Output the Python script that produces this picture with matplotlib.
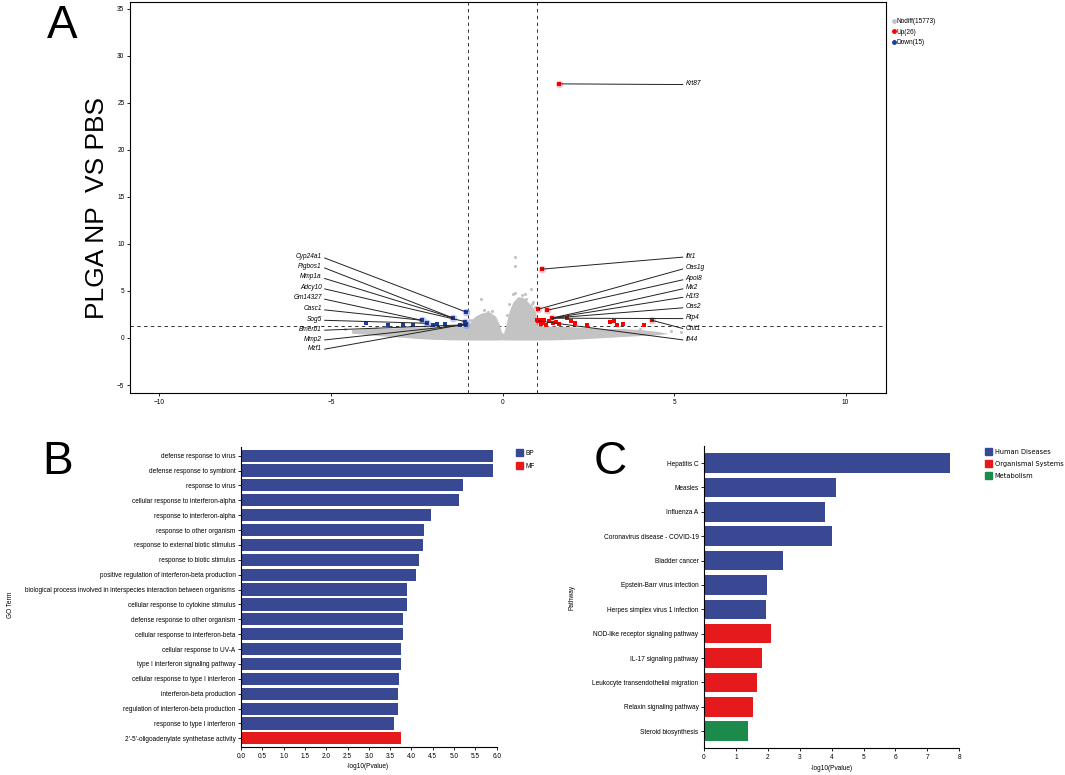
import matplotlib
matplotlib.use("Agg")
import matplotlib.pyplot as plt
from matplotlib.lines import Line2D
from matplotlib.patches import Patch
from matplotlib import font_manager

plt.rcParams['font.family'] = ['Liberation Sans', 'DejaVu Sans']

# ---------------- Panel A data ----------------
up_x = [1.66, 1.14, 1.04, 1.31, 1.43, 1.87, 1.01, 1.09, 1.20, 1.17, 1.27, 1.46, 1.66,
        2.00, 2.10, 3.14, 3.26, 3.35, 3.50, 4.13, 4.35, 1.04, 1.12, 1.55, 2.45, 1.35]
up_y = [27.0, 7.31, 3.05, 2.95, 2.10, 2.16, 1.91, 1.91, 1.91, 1.56, 1.38, 1.56, 1.46,
        1.84, 1.56, 1.67, 1.78, 1.38, 1.49, 1.38, 1.88, 1.81, 1.45, 1.70, 1.40, 1.75]
down_x = [-1.07, -1.45, -1.08, -2.36, -2.19, -1.07, -1.69, -2.02, -2.90, -3.35, -3.99,
          -1.05, -1.25, -2.60, -1.90]
down_y = [2.77, 2.13, 1.73, 1.88, 1.56, 1.40, 1.46, 1.38, 1.38, 1.38, 1.56,
          1.50, 1.35, 1.42, 1.48]

nodiff_env_x = [-4.4, -4.0, -3.5, -3.0, -2.5, -2.0, -1.5, -1.0, -0.9, -0.8, -0.65, -0.5,
                -0.35, -0.2, -0.1, -0.03, 0.03, 0.1, 0.2, 0.3, 0.45, 0.6, 0.75, 0.9,
                0.98, 1.0, 1.5, 2.0, 2.5, 3.0, 3.5, 4.0, 4.5, 4.8]
nodiff_env_top = [0.9, 1.0, 1.05, 1.1, 1.15, 1.2, 1.25, 1.3, 1.9, 2.3, 2.6, 2.75,
                  2.7, 2.3, 1.5, 0.6, 0.5, 1.4, 2.9, 3.8, 4.4, 4.3, 3.8, 3.2,
                  2.6, 1.3, 1.25, 1.2, 1.1, 1.0, 1.0, 0.9, 0.7, 0.5]
nodiff_env_bot = [0.5, 0.4, 0.2, 0.1, -0.05, -0.15, -0.2, -0.22, -0.22, -0.22, -0.22, -0.22,
                  -0.22, -0.22, -0.22, -0.2, -0.2, -0.22, -0.22, -0.22, -0.22, -0.22, -0.22, -0.22,
                  -0.22, -0.22, -0.2, -0.15, -0.05, 0.05, 0.15, 0.25, 0.35, 0.45]
nodiff_pts_x = [0.35, 0.37, -0.63, -0.41, -0.80, -0.87, 0.32, 0.36, 0.56, 0.65, 0.82, 0.69,
                0.85, 0.90, -0.55, -0.30, 0.20, 0.95, -0.95, 0.12, -4.6, -3.7, 4.9, 4.0, 5.2]
nodiff_pts_y = [8.65, 7.66, 4.19, 2.77, 2.06, 1.90, 4.72, 4.80, 4.54, 4.72, 5.15, 4.19,
                3.66, 3.84, 3.0, 2.9, 3.6, 3.3, 1.95, 2.4, 0.9, 1.1, 0.7, 1.0, 0.6]

right_labels = ['Krt87', 'Ifit1', 'Oas1g', 'Apol8', 'Mx2', 'H1f3', 'Oas2', 'Rtp4', 'Chit1', 'Ifi44']
right_label_y = [27.0, 8.69, 7.49, 6.32, 5.36, 4.44, 3.30, 2.13, 1.0, -0.17]
right_target = [0, 1, 2, 3, 4, 4, 4, 4, 20, 21]
left_labels = ['Cyp24a1', 'Pigbos1', 'Mmp1a', 'Adcy10', 'Gm14327', 'Casc1', 'Sog5',
               'Bmerb1', 'Mmp2', 'Mzf1']
left_label_y = [8.69, 7.63, 6.49, 5.36, 4.26, 3.09, 1.96, 0.89, -0.17, -1.17]
left_target = [0, 1, 1, 2, 3, 3, 4, 5, 5, 11]

legend_a = ['Nodiff(15773)', 'Up(26)', 'Down(15)']

# ---------------- Panel B data ----------------
go_terms = ['defense response to virus', 'defense response to symbiont', 'response to virus',
            'cellular response to interferon-alpha', 'response to interferon-alpha',
            'response to other organism', 'response to external biotic stimulus',
            'response to biotic stimulus', 'positive regulation of interferon-beta production',
            'biological process involved in interspecies interaction between organisms',
            'cellular response to cytokine stimulus', 'defense response to other organism',
            'cellular response to interferon-beta', 'cellular response to UV-A',
            'type I interferon signaling pathway', 'cellular response to type I interferon',
            'interferon-beta production', 'regulation of interferon-beta production',
            'response to type I interferon', "2'-5'-oligoadenylate synthetase activity"]
go_values = [5.92, 5.92, 5.21, 5.12, 4.46, 4.30, 4.27, 4.18, 4.11, 3.90, 3.90, 3.80, 3.80,
             3.76, 3.76, 3.71, 3.69, 3.69, 3.59, 3.75]
go_class = ['BP'] * 19 + ['MF']

# ---------------- Panel C data ----------------
pathways = ['Hepatitis C', 'Measles', 'Influenza A', 'Coronavirus disease - COVID-19',
            'Bladder cancer', 'Epstein-Barr virus infection', 'Herpes simplex virus 1 infection',
            'NOD-like receptor signaling pathway', 'IL-17 signaling pathway',
            'Leukocyte transendothelial migration', 'Relaxin signaling pathway',
            'Steroid biosynthesis']
path_values = [7.70, 4.13, 3.78, 4.00, 2.47, 1.97, 1.94, 2.09, 1.81, 1.66, 1.53, 1.39]
path_class = ['Human Diseases'] * 7 + ['Organismal Systems'] * 4 + ['Metabolism']

# ---------------- styling ----------------
W, H = 1065, 775
fig = plt.figure(figsize=(W / 100, H / 100), dpi=100)

def fx(px):
    return px / W

def fy(py):
    return 1 - py / H

TICK_FS = 4.7
RED = '#FF0000'
BLUE = '#1F3D9A'
GRAY = '#C3C3C3'
DASH = (0, (3.5, 3.5))

# ---------------- Panel A ----------------
axA = fig.add_axes([fx(130), fy(393), fx(886) - fx(130), fy(2) - fy(393)])
axA.set_xlim(-10.86, 11.18)
axA.set_ylim(-5.85, 35.7)
axA.fill_between(nodiff_env_x, nodiff_env_bot, nodiff_env_top, color=GRAY, lw=0, zorder=1)
axA.scatter(nodiff_pts_x, nodiff_pts_y, s=5, color=GRAY, lw=0, zorder=1)
axA.axvline(-1, color='#333333', ls=DASH, lw=0.7, zorder=0)
axA.axvline(1, color='#333333', ls=DASH, lw=0.7, zorder=0)
axA.axhline(1.301, color='#333333', ls=DASH, lw=0.7, zorder=0)

# glows for labelled points
gu = sorted(set(right_target))
axA.scatter([up_x[i] for i in gu], [up_y[i] for i in gu], s=30, color='#FF9A9A', alpha=0.6, lw=0, zorder=2)
gd = sorted(set(left_target))
axA.scatter([down_x[i] for i in gd], [down_y[i] for i in gd], s=30, color='#90A6E6', alpha=0.6, lw=0, zorder=2)
axA.scatter(up_x, up_y, s=5, marker='s', color=RED, lw=0, zorder=3)
axA.scatter(down_x, down_y, s=5, marker='s', color=BLUE, lw=0, zorder=3)

for lab, ly, t in zip(right_labels, right_label_y, right_target):
    axA.annotate(lab, xy=(up_x[t], up_y[t]), xytext=(5.34, ly), ha='left', va='center',
                 fontsize=TICK_FS, style='italic',
                 arrowprops=dict(arrowstyle='-', lw=0.7, color='#222222', shrinkA=0, shrinkB=0,
                                 relpos=(0, 0.4)), zorder=4)
for lab, ly, t in zip(left_labels, left_label_y, left_target):
    axA.annotate(lab, xy=(down_x[t], down_y[t]), xytext=(-5.27, ly), ha='right', va='center',
                 fontsize=TICK_FS, style='italic',
                 arrowprops=dict(arrowstyle='-', lw=0.7, color='#222222', shrinkA=0, shrinkB=0,
                                 relpos=(1, 0.4)), zorder=4)

axA.set_xticks([-10, -5, 0, 5, 10])
axA.set_yticks([-5, 0, 5, 10, 15, 20, 25, 30, 35])
axA.tick_params(labelsize=TICK_FS, length=2.5, width=0.6, pad=1.5)
for s in axA.spines.values():
    s.set_linewidth(0.8)

handles = [Line2D([], [], marker='o', ls='', color=GRAY, markersize=2.5),
           Line2D([], [], marker='o', ls='', color=RED, markersize=2.5),
           Line2D([], [], marker='o', ls='', color=BLUE, markersize=2.5)]
fig.legend(handles, legend_a, loc='upper left', bbox_to_anchor=(fx(892), fy(18)),
           bbox_transform=fig.transFigure, frameon=False, fontsize=TICK_FS,
           handlelength=0.6, handletextpad=0.1, labelspacing=0.55, borderpad=0, borderaxespad=0)

# y label / panel letters
try:
    font_manager.findfont('Liberation Sans Narrow', fallback_to_default=False)
    big_family = ['Liberation Sans Narrow', 'Liberation Sans']
    big_size = 23
except Exception:
    big_family = ['Liberation Sans']
    big_size = 19
fig.text(fx(97), fy(208), 'PLGA NP  VS PBS', rotation=90, ha='center', va='center',
         fontsize=big_size, family=big_family)
fig.text(fx(62), fy(38), 'A', ha='center', va='baseline', fontsize=33)
fig.text(fx(58), fy(474), 'B', ha='center', va='baseline', fontsize=33)
fig.text(fx(610), fy(474), 'C', ha='center', va='baseline', fontsize=33)

# ---------------- Panel B ----------------
colB = {'BP': '#394893', 'MF': '#E41A1C'}
axB = fig.add_axes([fx(241), fy(747.3), fx(496.7) - fx(241), fy(446.7) - fy(747.3)])
n = len(go_terms)
posB = [n - 1 - i for i in range(n)]
axB.barh(posB, go_values, height=0.82, color=[colB[c] for c in go_class], lw=0)
axB.set_yticks(posB)
axB.set_yticklabels(go_terms)
axB.set_ylim(-0.6, n - 0.4)
axB.set_xlim(0, 6)
axB.set_xticks([i * 0.5 for i in range(13)])
axB.set_xticklabels(['%.1f' % (i * 0.5) for i in range(13)])
axB.tick_params(labelsize=TICK_FS, length=2.5, width=0.6, pad=1.5)
axB.spines['top'].set_visible(False)
axB.spines['right'].set_visible(False)
for s in ('left', 'bottom'):
    axB.spines[s].set_linewidth(0.8)
fig.text(fx(368), fy(767), '-log10(Pvalue)', ha='center', va='center', fontsize=TICK_FS)
fig.text(fx(10), fy(605), 'GO Term', rotation=90, ha='center', va='center', fontsize=TICK_FS)
fig.legend([Patch(color=colB['BP']), Patch(color=colB['MF'])], ['BP', 'MF'],
           loc='upper left', bbox_to_anchor=(fx(516), fy(449)), bbox_transform=fig.transFigure,
           frameon=False, fontsize=TICK_FS, handlelength=1.0, handleheight=1.2,
           handletextpad=0.5, labelspacing=0.9, borderpad=0, borderaxespad=0)

# ---------------- Panel C ----------------
colC = {'Human Diseases': '#394893', 'Organismal Systems': '#E41A1C', 'Metabolism': '#1B8A4A'}
axC = fig.add_axes([fx(704), fy(748.3), fx(959.3) - fx(704), fy(446) - fy(748.3)])
m = len(pathways)
posC = [m - 1 - i for i in range(m)]
axC.barh(posC, path_values, height=0.8, color=[colC[c] for c in path_class], lw=0)
axC.set_yticks(posC)
axC.set_yticklabels(pathways)
axC.set_ylim(-0.7, m - 0.3)
axC.set_xlim(0, 8)
axC.set_xticks(range(9))
axC.tick_params(labelsize=TICK_FS, length=2.5, width=0.6, pad=1.5)
axC.spines['top'].set_visible(False)
axC.spines['right'].set_visible(False)
for s in ('left', 'bottom'):
    axC.spines[s].set_linewidth(0.8)
fig.text(fx(832), fy(768), '-log10(Pvalue)', ha='center', va='center', fontsize=TICK_FS)
fig.text(fx(572), fy(597), 'Pathway', rotation=90, ha='center', va='center', fontsize=TICK_FS)
fig.legend([Patch(color=colC[k]) for k in ['Human Diseases', 'Organismal Systems', 'Metabolism']],
           ['Human Diseases', 'Organismal Systems', 'Metabolism'],
           loc='upper left', bbox_to_anchor=(fx(985), fy(448)), bbox_transform=fig.transFigure,
           frameon=False, handlelength=1.0, handleheight=1.2,
           handletextpad=0.45, labelspacing=0.8, borderpad=0, borderaxespad=0,
           prop={'family': 'DejaVu Sans', 'size': 4.8})

fig.savefig('out.png', dpi=100)
